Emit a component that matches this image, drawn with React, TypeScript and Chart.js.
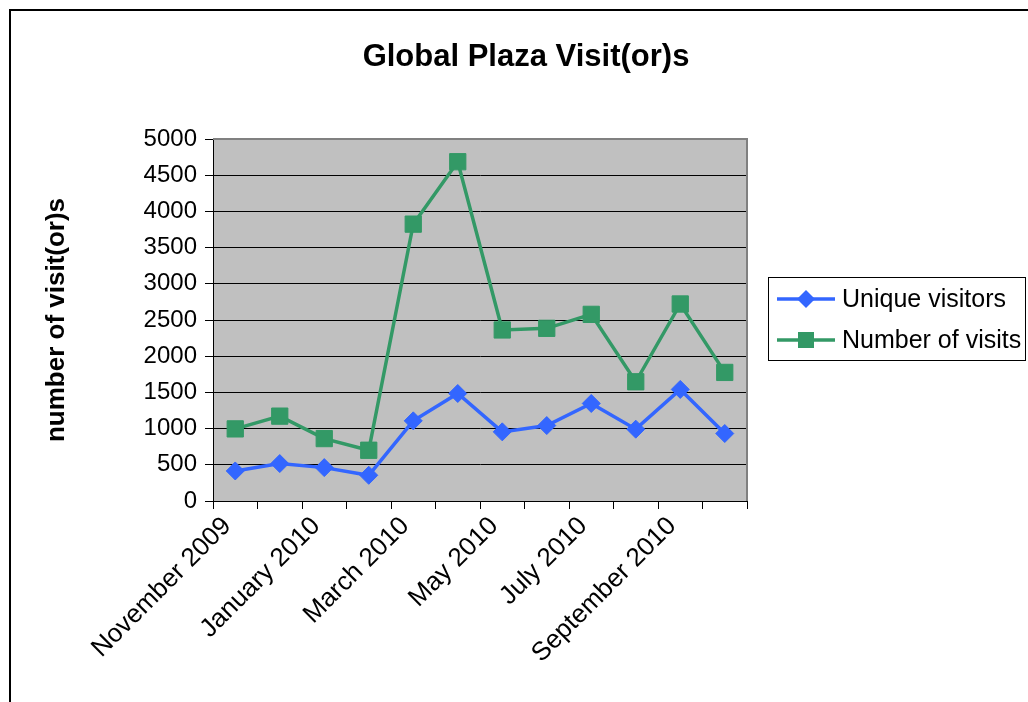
import React, { useEffect, useRef } from "react";
import { Chart, registerables } from "chart.js";

Chart.register(...registerables);

const categories = [
  "November 2009",
  "December 2009",
  "January 2010",
  "February 2010",
  "March 2010",
  "April 2010",
  "May 2010",
  "June 2010",
  "July 2010",
  "August 2010",
  "September 2010",
  "October 2010",
];
const uniqueVisitors = [415, 517, 461, 355, 1107, 1485, 955, 1042, 1347, 992, 1541, 932];
const numberOfVisits = [996, 1172, 862, 701, 3824, 4686, 2362, 2385, 2578, 1647, 2721, 1776];
const seriesNames = ["Unique visitors", "Number of visits"];
const seriesColors = ["#3366FF", "#339966"];
const yMin = 0;
const yMax = 5000;
const yStep = 500;
const chartTitle = "Global Plaza Visit(or)s";
const yTitle = "number of visit(or)s";

const FONT = "'Liberation Sans', Arial, Helvetica, sans-serif";

const decorPlugin = {
  id: "decor",
  beforeDraw(chart: any) {
    const { ctx, chartArea } = chart;
    ctx.save();
    ctx.fillStyle = "#ffffff";
    ctx.fillRect(0, 0, chart.width, chart.height);
    ctx.fillStyle = "#C0C0C0";
    ctx.fillRect(chartArea.left, chartArea.top, chartArea.right - chartArea.left, chartArea.bottom - chartArea.top);
    ctx.restore();
  },
  afterDraw(chart: any) {
    const { ctx, chartArea } = chart;
    ctx.save();
    ctx.strokeStyle = "#808080";
    ctx.lineWidth = 2;
    ctx.beginPath();
    ctx.moveTo(chartArea.left, chartArea.top);
    ctx.lineTo(chartArea.right, chartArea.top);
    ctx.lineTo(chartArea.right, chartArea.bottom);
    ctx.stroke();

    ctx.strokeStyle = "#000000";
    ctx.lineWidth = 2;
    ctx.strokeRect(10, 10, chart.width + 50, chart.height + 50);

    const bx = 768.5;
    const by = 277.5;
    const bw = 257;
    const bh = 83;
    ctx.lineWidth = 1;
    ctx.strokeStyle = "#000000";
    ctx.strokeRect(bx, by, bw, bh);
    const rows = [299, 340];
    const styles = ["rectRot", "rect"];
    rows.forEach((ry, i) => {
      ctx.strokeStyle = seriesColors[i];
      ctx.lineWidth = 3.5;
      ctx.beginPath();
      ctx.moveTo(777, ry);
      ctx.lineTo(835, ry);
      ctx.stroke();
      ctx.fillStyle = seriesColors[i];
      ctx.beginPath();
      if (styles[i] === "rectRot") {
        ctx.moveTo(806 - 9, ry);
        ctx.lineTo(806, ry - 9);
        ctx.lineTo(806 + 9, ry);
        ctx.lineTo(806, ry + 9);
        ctx.closePath();
      } else {
        ctx.rect(806 - 8, ry - 8, 16, 16);
      }
      ctx.fill();
      ctx.fillStyle = "#000000";
      ctx.font = `25px ${FONT}`;
      ctx.textAlign = "left";
      ctx.textBaseline = "middle";
      ctx.fillText(seriesNames[i], 842, ry + 1);
    });
    ctx.restore();
  },
};

export default function App() {
  const canvasRef = useRef<HTMLCanvasElement | null>(null);

  useEffect(() => {
    if (!canvasRef.current) return;
    Chart.defaults.font.family = FONT;
    Chart.defaults.color = "#000000";
    const chart = new Chart(canvasRef.current, {
      type: "line",
      data: {
        labels: categories,
        datasets: [
          {
            label: seriesNames[0],
            data: uniqueVisitors,
            borderColor: seriesColors[0],
            backgroundColor: seriesColors[0],
            borderWidth: 3.5,
            pointStyle: "rectRot",
            pointRadius: 9,
            pointBorderWidth: 1,
            pointBackgroundColor: seriesColors[0],
            pointBorderColor: seriesColors[0],
            tension: 0,
          },
          {
            label: seriesNames[1],
            data: numberOfVisits,
            borderColor: seriesColors[1],
            backgroundColor: seriesColors[1],
            borderWidth: 3.5,
            pointStyle: "rect",
            pointRadius: 11.5,
            pointBorderWidth: 1,
            pointBackgroundColor: seriesColors[1],
            pointBorderColor: seriesColors[1],
            tension: 0,
          },
        ],
      },
      options: {
        responsive: false,
        animation: false,
        layout: { padding: { left: 24, top: 0, right: 0, bottom: 0 } },
        plugins: {
          legend: { display: false },
          tooltip: { enabled: false },
          title: {
            display: true,
            text: chartTitle,
            color: "#000000",
            font: { size: 31, weight: "bold", family: FONT },
            padding: { top: 38.4, bottom: 63.4 },
          },
        },
        scales: {
          x: {
            type: "category",
            offset: true,
            grid: {
              offset: true,
              drawOnChartArea: false,
              drawTicks: true,
              tickLength: 8,
              color: "#000000",
            },
            border: { color: "#000000", width: 1 },
            ticks: {
              autoSkip: false,
              maxRotation: 45,
              minRotation: 45,
              padding: 2,
              labelOffset: -8,
              font: { size: 26, family: FONT },
              color: "#000000",
              callback: (_v: any, i: number) => (i % 2 === 0 ? categories[i] : ""),
            },
            afterFit: (s: any) => {
              s.height = 201;
            },
          },
          y: {
            type: "linear",
            position: "left",
            min: yMin,
            max: yMax,
            grid: { color: "#000000", lineWidth: 1, tickLength: 8, drawTicks: true },
            border: { color: "#000000", width: 1 },
            ticks: {
              stepSize: yStep,
              padding: 8,
              font: { size: 24, family: FONT },
              color: "#000000",
              callback: (v: any) => String(v),
            },
            title: {
              display: true,
              text: yTitle,
              color: "#000000",
              font: { size: 26, weight: "bold", family: FONT },
              padding: { top: 17, bottom: 0 },
            },
            afterFit: (s: any) => {
              s.width = 189;
            },
          },
          yRight: {
            type: "linear",
            position: "right",
            display: true,
            grid: { display: false, drawTicks: false },
            border: { display: false },
            ticks: { display: false },
            afterFit: (s: any) => {
              s.width = 281;
            },
          },
        },
      },
      plugins: [decorPlugin],
    } as any);
    return () => chart.destroy();
  }, []);

  return (
    <div style={{ position: "fixed", left: 0, top: 0, width: 1028, height: 702, background: "#fff" }}>
      <canvas ref={canvasRef} width={1028} height={702} />
    </div>
  );
}
